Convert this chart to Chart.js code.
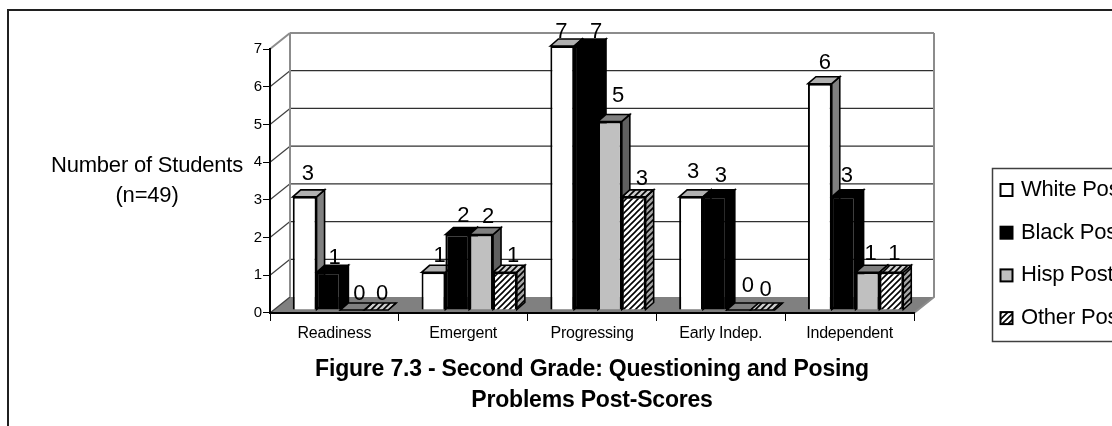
<!DOCTYPE html>
<html>
<head>
<meta charset="utf-8">
<title>Figure 7.3</title>
<script src="https://cdn.jsdelivr.net/npm/chart.js@4"></script>
<style>
  html, body { margin: 0; padding: 0; background: #fff; overflow: hidden; }
  canvas { display: block; }
</style>
</head>
<body>
<canvas id="grafico" width="1112" height="426"></canvas>
<script>
const categorias = ["Readiness", "Emergent", "Progressing", "Early Indep.", "Independent"];
const whitePost = [3, 1, 7, 3, 6];
const blackPost = [1, 2, 7, 3, 3];
const hispPost = [0, 2, 5, 0, 1];
const otherPost = [0, 1, 3, 0, 1];
const nomesSeries = ["White Post", "Black Post", "Hisp Post", "Other Post"];
const tituloEixo = ["Number of Students", "(n=49)"];
const titulo = ["Figure 7.3 - Second Grade: Questioning and Posing", "Problems Post-Scores"];

const FONTE = '"Liberation Sans", Arial, sans-serif';
const ctx = document.getElementById("grafico").getContext("2d");

// depth of the floor and of each bar
const fundo = { x: 20, y: 16 };
const prof = { x: 8, y: 7 };
const desloc = { x: 6, y: -3 };

// the labels were nudged by hand in the original, per series then per category
const ajusteRotulos = [
  [[3, -17], [6, -10], [-1, -8], [2, -19], [5, -15]],
  [[6, -8], [6, -13], [10, -8], [6, -15], [3, -15]],
  [[7, -10], [7, -12], [8, -19], [9, -18], [3, -12]],
  [[6, -10], [8, -10], [8, -12], [3, -14], [3, -12]],
];

function hachura() {
  const c = document.createElement("canvas");
  c.width = 6;
  c.height = 6;
  const g = c.getContext("2d");
  g.fillStyle = "#fff";
  g.fillRect(0, 0, 6, 6);
  g.strokeStyle = "#000";
  g.lineWidth = 1.6;
  g.beginPath();
  g.moveTo(-1.5, 1.5); g.lineTo(1.5, -1.5);
  g.moveTo(-1.5, 7.5); g.lineTo(7.5, -1.5);
  g.moveTo(4.5, 7.5); g.lineTo(7.5, 4.5);
  g.stroke();
  return ctx.createPattern(c, "repeat");
}
const padrao = hachura();

const cores = ["#ffffff", "#000000", "#c0c0c0", padrao];
const coresTopo = ["#b0b0b0", "#000000", "#808080", padrao];
const coresLado = ["#808080", "#000000", "#606060", padrao];

function poligono(c, pts, fill, sombra) {
  c.beginPath();
  pts.forEach((p, i) => (i ? c.lineTo(p[0], p[1]) : c.moveTo(p[0], p[1])));
  c.closePath();
  c.fillStyle = fill;
  c.fill();
  if (sombra) {
    c.fillStyle = sombra;
    c.fill();
  }
  c.stroke();
}

const paredes = {
  id: "paredes",
  afterLayout(chart) {
    // centre the title under the plot, not under the plot plus axis
    chart.titleBlock.left = chart.chartArea.left;
    chart.titleBlock.right = chart.chartArea.right;
  },
  beforeDraw(chart) {
    const c = chart.ctx;
    const { left, right } = chart.chartArea;
    const y = chart.scales.y;
    c.save();

    // outer frame, only left and top are in view
    c.strokeStyle = "#202020";
    c.lineWidth = 2;
    c.beginPath();
    c.moveTo(8, 426);
    c.lineTo(8, 10);
    c.lineTo(1112, 10);
    c.stroke();

    // floor
    const y0 = y.getPixelForValue(0);
    c.fillStyle = "#808080";
    c.beginPath();
    c.moveTo(left, y0);
    c.lineTo(left + fundo.x, y0 - fundo.y);
    c.lineTo(right + fundo.x, y0 - fundo.y);
    c.lineTo(right, y0);
    c.closePath();
    c.fill();

    // grid lines along the back wall and the side wall
    y.ticks.forEach((t) => {
      const py = y.getPixelForValue(t.value);
      const topo = t.value === y.max;
      c.strokeStyle = topo ? "#8c8c8c" : "#303030";
      c.lineWidth = topo ? 2 : 1.3;
      if (t.value > 0) {
        c.beginPath();
        c.moveTo(left + fundo.x, py - fundo.y);
        c.lineTo(right + fundo.x, py - fundo.y);
        c.stroke();
      }
      c.strokeStyle = topo ? "#8c8c8c" : "#404040";
      c.beginPath();
      c.moveTo(left, py);
      c.lineTo(left + fundo.x, py - fundo.y);
      c.stroke();
    });

    // wall edges
    const yTopo = y.getPixelForValue(y.max) - fundo.y;
    c.strokeStyle = "#8c8c8c";
    c.lineWidth = 2;
    c.beginPath();
    c.moveTo(left + fundo.x, yTopo);
    c.lineTo(left + fundo.x, y0 - fundo.y);
    c.moveTo(right + fundo.x, yTopo);
    c.lineTo(right + fundo.x, y0 - fundo.y);
    c.lineTo(right, y0);
    c.stroke();
    c.restore();
    c.letterSpacing = "-0.2px";
  },
  beforeDatasetsDraw(chart) {
    const c = chart.ctx;
    // left to right, each series on top of the side of the one before
    chart.data.datasets.forEach((ds, i) => {
      const meta = chart.getDatasetMeta(i);
      c.save();
      c.translate(desloc.x, desloc.y);
      c.lineWidth = 1.6;
      c.strokeStyle = "#000";
      c.lineJoin = "miter";
      meta.data.forEach((el) => {
        const { x, y, base, width } = el.getProps(["x", "y", "base", "width"], true);
        const l = x - width / 2;
        const r = x + width / 2;
        poligono(c, [[r, y], [r + prof.x, y - prof.y], [r + prof.x, base - prof.y], [r, base]], coresLado[i], i === 3 ? "rgba(0,0,0,.35)" : null);
        poligono(c, [[l, y], [l + prof.x, y - prof.y], [r + prof.x, y - prof.y], [r, y]], coresTopo[i], i === 3 ? "rgba(0,0,0,.2)" : null);
      });
      meta.controller.draw();
      c.restore();
    });

    // value labels
    c.save();
    c.fillStyle = "#000";
    c.font = "22px " + FONTE;
    c.textAlign = "center";
    c.textBaseline = "alphabetic";
    chart.data.datasets.forEach((ds, i) => {
      chart.getDatasetMeta(i).data.forEach((el, j) => {
        const { x, y } = el.getProps(["x", "y"], true);
        const a = ajusteRotulos[i][j];
        c.fillText(String(ds.data[j]), x + desloc.x + a[0], y + desloc.y + a[1]);
      });
    });
    c.restore();
    return false;
  },
  afterDraw(chart) {
    const c = chart.ctx;
    c.save();

    // title of the value axis, written flat
    c.fillStyle = "#000";
    c.font = "22px " + FONTE;
    c.textAlign = "center";
    c.textBaseline = "alphabetic";
    c.fillText(tituloEixo[0], 147, 172);
    c.fillText(tituloEixo[1], 147, 202);

    // legend runs off the right edge like the original
    c.strokeStyle = "#404040";
    c.lineWidth = 1.5;
    c.strokeRect(992.5, 168.5, 140, 173);
    c.textAlign = "left";
    c.textBaseline = "middle";
    c.font = "22px " + FONTE;
    chart.data.datasets.forEach((ds, i) => {
      const yy = 190 + i * 42.7;
      c.fillStyle = cores[i];
      c.strokeStyle = "#000";
      c.lineWidth = 2;
      c.fillRect(1000.5, yy - 6, 12, 12);
      c.strokeRect(1000.5, yy - 6, 12, 12);
      c.fillStyle = "#000";
      c.fillText(ds.label, 1021, yy);
    });
    c.restore();
  },
};

const grafico = new Chart(ctx, {
  type: "bar",
  plugins: [paredes],
  data: {
    labels: categorias,
    datasets: [whitePost, blackPost, hispPost, otherPost].map((d, i) => ({
      label: nomesSeries[i],
      data: d,
      backgroundColor: cores[i],
      borderColor: "#000",
      borderWidth: 2,
      clip: false,
    })),
  },
  options: {
    responsive: false,
    animation: false,
    devicePixelRatio: 1,
    categoryPercentage: 0.74,
    barPercentage: 1,
    layout: {
      autoPadding: false,
      padding: { left: 235, right: 198, top: 49, bottom: 10 },
    },
    plugins: {
      legend: { display: false },
      tooltip: { enabled: false },
      title: {
        display: true,
        position: "bottom",
        text: titulo,
        color: "#000",
        padding: 0,
        font: { family: FONTE, size: 23, weight: "bold", lineHeight: 1.335 },
      },
    },
    scales: {
      x: {
        afterFit: (s) => { s.height = 41.6; },
        border: { color: "#000", width: 2 },
        grid: { drawOnChartArea: false, color: "#000", tickLength: 8 },
        ticks: { color: "#000", padding: 3, maxRotation: 0, font: { family: FONTE, size: 16 } },
      },
      y: {
        min: 0,
        max: 7,
        afterFit: (s) => { s.width = 35; },
        border: { color: "#000", width: 2 },
        grid: { drawOnChartArea: false, color: "#000", tickLength: 7 },
        ticks: { stepSize: 1, color: "#000", padding: 1, font: { family: FONTE, size: 15 } },
      },
    },
  },
});
</script>
</body>
</html>
